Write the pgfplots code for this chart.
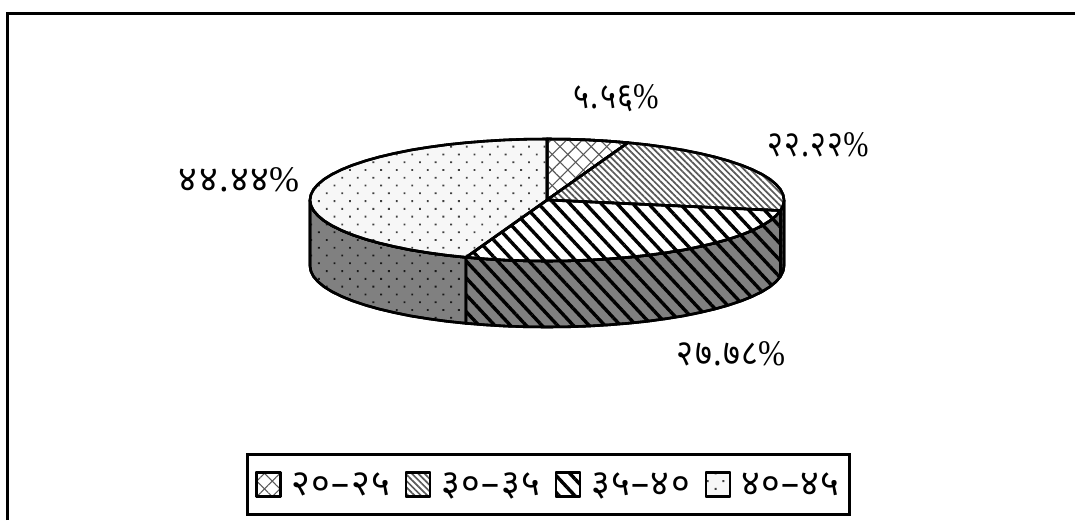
\documentclass[border=0pt]{standalone}
\usepackage{fontspec}
\usepackage{pgfplots}
\usepackage{pgfplotstable}
\pgfplotsset{compat=1.18}
\usetikzlibrary{patterns.meta}
\setmainfont[Script=Devanagari]{Noto Sans}
\newfontfamily\lblfont[Script=Devanagari,LetterSpace=4]{Noto Sans}
\newfontfamily\pctfont{Liberation Serif}
\newcommand{\pct}{{\pctfont\%}}

% shares of the pie: 5.56, 22.22, 27.78, 44.44 per cent
% outlines are in picture pixels, y running down
\pgfplotstableread{
x y
547 200
547 139
567.7 139.2
588.2 139.9
608.3 141.1
628.1 142.7
547 200
}\sliceA
\pgfplotstableread{
x y
547 200
628.1 142.7
647.2 144.7
665.5 147.2
682.9 150
699.3 153.3
714.6 156.9
728.5 160.8
741.1 165
752.2 169.5
761.8 174.2
769.7 179.1
775.9 184.2
780.4 189.4
783.1 194.7
784 200
783.1 205.3
780.4 210.6
547 200
}\sliceB
\pgfplotstableread{
x y
547 200
780.4 210.6
775.9 215.8
769.7 220.9
761.8 225.8
752.2 230.5
741.1 235
728.5 239.2
714.6 243.1
699.3 246.7
682.9 250
665.5 252.8
647.2 255.3
628.1 257.3
608.3 258.9
588.2 260.1
567.7 260.8
547 261
526.3 260.8
505.8 260.1
485.7 258.9
465.9 257.3
547 200
}\sliceC
\pgfplotstableread{
x y
547 200
465.9 257.3
446.8 255.3
428.5 252.8
411.1 250
394.7 246.7
379.4 243.1
365.5 239.2
352.9 235
341.8 230.5
332.2 225.8
324.3 220.9
318.1 215.8
313.6 210.6
310.9 205.3
310 200
310.9 194.7
313.6 189.4
318.1 184.2
324.3 179.1
332.2 174.2
341.8 169.5
352.9 165
365.5 160.8
379.4 156.9
394.7 153.3
411.1 150
428.5 147.2
446.8 144.7
465.9 142.7
485.7 141.1
505.8 139.9
526.3 139.2
547 139
547 200
}\sliceD
\pgfplotstableread{
x y
784 200
783.1 205.3
780.4 210.6
780.4 276.6
783.1 271.3
784 266
784 200
}\sideB
\pgfplotstableread{
x y
780.4 210.6
775.9 215.8
769.7 220.9
761.8 225.8
752.2 230.5
741.1 235
728.5 239.2
714.6 243.1
699.3 246.7
682.9 250
665.5 252.8
647.2 255.3
628.1 257.3
608.3 258.9
588.2 260.1
567.7 260.8
547 261
526.3 260.8
505.8 260.1
485.7 258.9
465.9 257.3
465.9 323.3
485.7 324.9
505.8 326.1
526.3 326.8
547 327
567.7 326.8
588.2 326.1
608.3 324.9
628.1 323.3
647.2 321.3
665.5 318.8
682.9 316
699.3 312.7
714.6 309.1
728.5 305.2
741.1 301
752.2 296.5
761.8 291.8
769.7 286.9
775.9 281.8
780.4 276.6
780.4 210.6
}\sideC
\pgfplotstableread{
x y
465.9 257.3
446.8 255.3
428.5 252.8
411.1 250
394.7 246.7
379.4 243.1
365.5 239.2
352.9 235
341.8 230.5
332.2 225.8
324.3 220.9
318.1 215.8
313.6 210.6
310.9 205.3
310 200
310 266
310.9 271.3
313.6 276.6
318.1 281.8
324.3 286.9
332.2 291.8
341.8 296.5
352.9 301
365.5 305.2
379.4 309.1
394.7 312.7
411.1 316
428.5 318.8
446.8 321.3
465.9 323.3
465.9 257.3
}\sideD

\tikzset{
  edge/.style={draw=black,line width=2.6pt,line join=round},
  brick/.style={fill=white,
    postaction={pattern={Lines[angle=45,distance=11pt,line width=1.1pt]},pattern color=black!65},
    postaction={pattern={Lines[angle=-45,distance=11pt,line width=1.1pt]},pattern color=black!65}},
  fine/.style={fill=white,
    postaction={pattern={Lines[angle=-45,distance=4.5pt,line width=1.7pt]},pattern color=black!65}},
  stripe/.style={fill=white,
    postaction={pattern={Lines[angle=-47,distance=11.5pt,line width=3.4pt]},pattern color=black}},
  speck/.style={fill=black!3,
    postaction={pattern={Dots[angle=45,distance=11pt,radius=1.3pt]},pattern color=black!75}},
}

\begin{document}
\begin{tikzpicture}
\useasboundingbox (0,0) rectangle (1075pt,520pt);
\begin{axis}[
  at={(0,0)},anchor=south west,
  scale only axis,width=1075pt,height=520pt,
  xmin=0,xmax=1075,ymin=0,ymax=520,y dir=reverse,
  hide axis,clip=false,
  legend columns=4,
  legend style={at={(axis cs:246,453)},anchor=north west,
    draw=black,line width=2.6pt,inner xsep=8pt,inner ysep=16pt,
    font=\fontsize{36}{36}\selectfont,
    /tikz/every odd column/.append style={column sep=8pt},
    /tikz/every even column/.append style={column sep=13pt}},
  legend image code/.code={\path[#1,line width=2.2pt] (0pt,-12pt) rectangle (24pt,12pt);},
]
% outer frame, open to the right and below
\addplot[black,line width=3pt,forget plot] coordinates {(7.5,520) (7.5,13.5) (1075,13.5)};

% side wall
\addplot[edge,forget plot,fill=black!50,
  postaction={pattern={Lines[angle=-45,distance=4.5pt,line width=1.6pt]},pattern color=black!80}] table {\sideB};
\addplot[edge,forget plot,fill=black!50,
  postaction={pattern={Lines[angle=-47,distance=11.5pt,line width=3.4pt]},pattern color=black}] table {\sideC};
\addplot[edge,forget plot,fill=black!50,
  postaction={pattern={Dots[angle=45,distance=11pt,radius=1.3pt]},pattern color=black!90}] table {\sideD};

% top face
\addplot[edge,brick] table {\sliceA};
\addlegendentry{२०–२५}
\addplot[edge,fine] table {\sliceB};
\addlegendentry{३०–३५}
\addplot[edge,stripe] table {\sliceC};
\addlegendentry{३५–४०}
\addplot[edge,speck] table {\sliceD};
\addlegendentry{४०–४५}

\tikzset{every node/.append style={font=\fontsize{36}{36}\lblfont}}
\node[xscale=.85] at (axis cs:616,98) {५.५६\pct};
\node[xscale=.84] at (axis cs:818,145) {२२.२२\pct};
\node[xscale=.9] at (axis cs:731,354) {२७.७८\pct};
\node at (axis cs:239,180) {४४.४४\pct};
\end{axis}
\end{tikzpicture}
\end{document}
